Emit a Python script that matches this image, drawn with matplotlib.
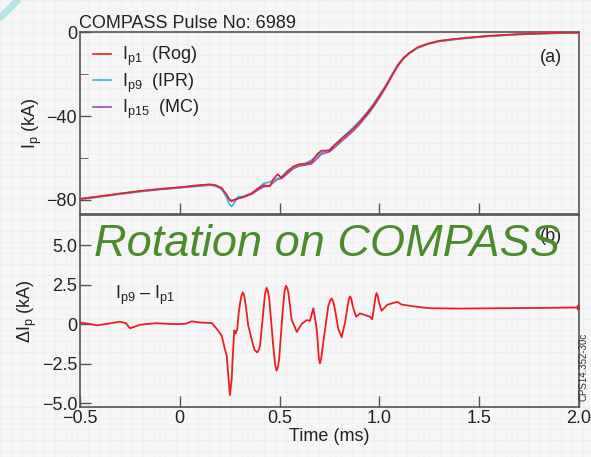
import matplotlib
matplotlib.use('Agg')
import matplotlib.pyplot as plt
import numpy as np

plt.rcParams['font.family'] = ['Liberation Sans', 'DejaVu Sans']
plt.rcParams['mathtext.fontset'] = 'custom'
plt.rcParams['mathtext.rm'] = 'Liberation Sans'
plt.rcParams['mathtext.it'] = 'Liberation Sans'

# ---- data ----
t_top = [-0.5, -0.4, -0.3, -0.2, -0.1, 0.0, 0.1, 0.15, 0.18, 0.21, 0.235, 0.25, 0.26,
         0.27, 0.29, 0.32, 0.36, 0.39, 0.42, 0.45, 0.47, 0.49, 0.51, 0.54, 0.57, 0.60,
         0.63, 0.66, 0.69, 0.71, 0.75, 0.78, 0.81, 0.84, 0.87, 0.90, 0.94, 0.97, 1.00,
         1.03, 1.06, 1.09, 1.12, 1.15, 1.19, 1.24, 1.30, 1.40, 1.55, 1.70, 1.85, 2.0]

ip1 = [-79.5, -78.3, -77.0, -75.8, -74.8, -74.0, -73.0, -72.6, -73.0, -74.4, -77.6, -80.2, -80.8,
       -80.2, -79.5, -78.6, -77.0, -74.8, -73.0, -73.5, -70.0, -67.8, -69.5, -66.5, -64.0, -63.0,
       -62.8, -62.0, -58.0, -56.5, -56.5, -53.5, -51.0, -48.5, -46.0, -43.0, -38.5, -34.8, -30.5,
       -26.0, -21.0, -16.0, -12.3, -9.8, -7.2, -5.4, -4.0, -2.9, -1.6, -0.8, -0.3, 0.0]

ip9 = [-79.6, -78.4, -77.1, -75.9, -74.9, -74.1, -73.1, -72.8, -73.3, -75.0, -79.0, -82.4, -83.2,
       -82.0, -78.6, -78.4, -76.8, -74.6, -72.2, -71.5, -70.5, -69.9, -69.0, -66.0, -64.3, -63.2,
       -62.5, -61.0, -58.8, -57.5, -56.0, -53.2, -50.6, -48.0, -45.4, -42.4, -38.0, -34.2, -30.0,
       -25.6, -20.6, -15.8, -12.2, -9.8, -7.3, -5.5, -4.1, -3.0, -1.7, -0.9, -0.4, -0.1]

ip15 = [-79.8, -78.6, -77.3, -76.1, -75.1, -74.3, -73.4, -73.0, -73.4, -74.8, -77.8, -80.0, -80.3,
        -80.0, -79.4, -78.7, -77.3, -75.4, -73.8, -73.4, -71.6, -70.2, -69.8, -67.4, -65.0, -63.8,
        -63.4, -62.8, -60.0, -58.2, -57.0, -54.6, -52.0, -49.6, -47.0, -44.0, -39.4, -35.6, -31.2,
        -26.6, -21.4, -16.4, -12.6, -10.1, -7.5, -5.7, -4.3, -3.1, -1.8, -1.0, -0.5, -0.2]

t_d = [-0.5, -0.45, -0.416, -0.37, -0.3, -0.27, -0.25, -0.2, -0.166, -0.12, -0.083, -0.04, 0.0,
       0.03, 0.06, 0.1, 0.16, 0.185, 0.21, 0.226, 0.235, 0.243, 0.251, 0.26, 0.265, 0.273, 0.28,
       0.288, 0.295, 0.30, 0.307, 0.315, 0.322, 0.33, 0.343, 0.368, 0.375, 0.388, 0.397, 0.402,
       0.418, 0.427, 0.435, 0.442, 0.448, 0.468, 0.478, 0.485, 0.492, 0.498, 0.515, 0.525, 0.532,
       0.539, 0.544, 0.56, 0.586, 0.61, 0.636, 0.652, 0.669, 0.686, 0.697, 0.702, 0.708, 0.719,
       0.744, 0.754, 0.761, 0.768, 0.777, 0.794, 0.811, 0.828, 0.841, 0.848, 0.853, 0.859, 0.866,
       0.883, 0.903, 0.928, 0.953, 0.964, 0.974, 0.98, 0.986, 0.992, 0.998, 1.011, 1.023, 1.04,
       1.06, 1.09, 1.11, 1.153, 1.203, 1.253, 1.4, 1.6, 1.8, 2.0]

d_ip = [0.1, 0.0, -0.08, 0.0, 0.15, 0.05, -0.27, -0.05, 0.0, 0.05, 0.03, 0.0, 0.0,
        0.02, 0.17, 0.1, 0.06, -0.3, -0.74, -1.6, -2.0, -3.26, -4.5, -3.5, -2.1, -0.4, -0.6,
        -0.3, 0.7, 1.15, 1.7, 2.0, 1.85, 1.2, -0.1, -1.37, -1.65, -1.8, -1.6, -1.37,
        0.74, 1.9, 2.3, 2.05, 1.6, -1.37, -2.6, -2.95, -2.7, -2.2, 0.74, 2.1, 2.42,
        2.25, 2.0, 0.3, -0.5, 0.0, 0.25, 0.2, 1.0, -0.3, -2.2, -2.5, -2.2, -1.15,
        1.15, 1.5, 1.62, 1.45, 0.95, -0.3, -0.84, 0.1, 1.15, 1.6, 1.75, 1.6, 1.15,
        0.46, 0.67, 0.57, 0.46, 0.3, 1.15, 1.7, 1.96, 1.75, 1.37, 0.84, 1.0, 1.22,
        1.3, 1.4, 1.24, 1.15, 1.07, 1.0, 0.98, 1.0, 1.02, 1.05]

x_ticks = [-0.5, 0, 0.5, 1.0, 1.5, 2.0]
x_ticklabels = ['\u22120.5', '0', '0.5', '1.0', '1.5', '2.0']
top_yticks = [0, -40, -80]
top_yticklabels = ['0', '\u221240', '\u221280']
bot_yticks = [5.0, 2.5, 0, -2.5, -5.0]
bot_yticklabels = ['5.0', '2.5', '0', '\u22122.5', '\u22125.0']

red = '#ee1c25'
blue = '#2fb6e8'
purple = '#9b4fb5'
edge = '#555555'

fig = plt.figure(figsize=(5.91, 4.57), dpi=100, facecolor='#f6f6f6')

# background graph-paper look
bg = fig.add_axes([0, 0, 1, 1], zorder=-10)
bg.set_xlim(0, 591)
bg.set_ylim(457, 0)
bg.set_facecolor('#f6f6f6')
for gx in np.arange(0, 592, 11):
    bg.axvline(gx, color='#eeeeee', lw=0.6)
for gy in np.arange(0, 458, 11):
    bg.axhline(gy, color='#eeeeee', lw=0.6)
bg.plot([-2, 22], [20, -4], color='#b5e1ea', lw=5, solid_capstyle='butt')
bg.axis('off')

ax1 = fig.add_axes([80/591, 1-214/457, 499/591, 182/457])
ax2 = fig.add_axes([80/591, 1-407/457, 499/591, 192/457])

for ax in (ax1, ax2):
    ax.set_facecolor('none')
    ax.set_xlim(-0.5, 2.0)
    for s in ax.spines.values():
        s.set_color(edge)
        s.set_linewidth(1.2)
    ax.tick_params(direction='in', color=edge, labelcolor='#222222', labelsize=13,
                   length=8, width=1.0, pad=2)

# top panel
ax1.plot(t_top, ip15, color=purple, lw=1.2, label='I$_{p15}$  (MC)', zorder=2)
ax1.plot(t_top, ip9, color=blue, lw=1.2, label='I$_{p9}$  (IPR)', zorder=3)
ax1.plot(t_top, ip1, color=red, lw=1.2, label='I$_{p1}$  (Rog)', zorder=4)
ax1.set_ylim(-86.8, 0.2)
ax1.set_yticks(top_yticks)
ax1.set_yticklabels(top_yticklabels)
ax1.set_yticks([-20, -60], minor=True)
ax1.tick_params(which='minor', direction='in', color=edge, length=6)
ax1.set_xticks([0, 0.5, 1.0, 1.5])
ax1.tick_params(axis='x', labelbottom=False)
ax1.set_ylabel('I$_{p}$ (kA)', fontsize=13, color='#222222', labelpad=2)
h, l = ax1.get_legend_handles_labels()
ax1.legend(h[::-1], l[::-1], loc='upper left', frameon=False, fontsize=13,
           handlelength=1.0, handletextpad=0.6, borderaxespad=0.3, labelspacing=0.2,
           labelcolor='#222222')
ax1.text(0.965, 0.86, '(a)', transform=ax1.transAxes, ha='right', va='center',
         fontsize=13, color='#222222')
ax1.set_title('COMPASS Pulse No: 6989', loc='left', fontsize=13, color='#222222',
              pad=2, x=-0.003)

# bottom panel
ax2.plot(t_d, d_ip, color=red, lw=1.3)
ax2.plot([t_d[-1]], [d_ip[-1]], marker='s', color=red, ms=3)
ax2.set_ylim(-5.25, 6.9)
ax2.set_yticks(bot_yticks)
ax2.set_yticklabels(bot_yticklabels)
ax2.set_xticks(x_ticks)
ax2.set_xticklabels(x_ticklabels)
ax2.set_xlabel('Time (ms)', fontsize=13, color='#222222', labelpad=1)
ax2.set_ylabel('\u0394I$_{p}$ (kA)', fontsize=13, color='#222222', labelpad=2)
ax2.text(0.965, 0.89, '(b)', transform=ax2.transAxes, ha='right', va='center',
         fontsize=13, color='#222222')
ax2.text(0.07, 0.58, 'I$_{p9}$ \u2013 I$_{p1}$', transform=ax2.transAxes, ha='left',
         va='center', fontsize=13, color='#222222')

fig.text(0.553, 1-245/457, 'Rotation on COMPASS', ha='center', va='center',
         fontsize=32.5, style='italic', color='#4b8b2b', zorder=20)
fig.text(0.995, 1-367/457, 'CPS14.352-30c', rotation=90, ha='right', va='center',
         fontsize=7, color='#333333')

fig.savefig('out.png', dpi=100, facecolor=fig.get_facecolor())
